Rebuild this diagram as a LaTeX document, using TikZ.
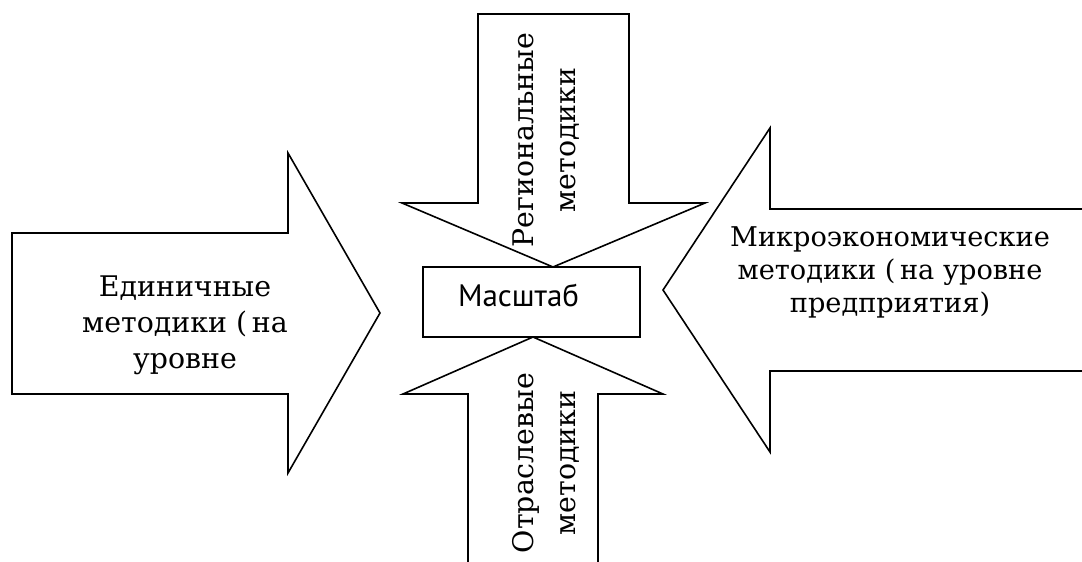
\documentclass[tikz,border=0pt]{standalone}
\usepackage{fontspec}
\setmainfont{DejaVu Serif}
\setsansfont{PT Sans}
\usepackage{tikz}

\begin{document}
\begin{tikzpicture}[
  x=0.5pt,y=-0.5pt,
  bigarrow/.style={draw=black,line width=0.8pt,fill=white,line join=miter},
  lbl/.style={align=center,inner sep=0pt,font=\fontsize{14.2}{18}\selectfont},
  vlbl/.style={lbl,rotate=90,font=\fontsize{14.2}{21}\selectfont},
  box/.style={draw=black,line width=0.8pt,minimum height=35pt,text width=73.5pt,inner xsep=17.5pt,
    align=left,text height=10pt,text depth=6pt,font=\sffamily\fontsize{15.5}{17}\selectfont}
]
\useasboundingbox (0,0) rectangle (1082,562);
% arrows
\draw[bigarrow] (12,233) -- (288,233) -- (288,153) -- (380,313) -- (288,473) -- (288,394) -- (12,394) -- cycle;
\draw[bigarrow] (478,14) -- (629,14) -- (629,203) -- (705,203) -- (553,267) -- (402,203) -- (478,203) -- cycle;
\draw[bigarrow] (468,575) -- (468,394) -- (403,394) -- (533,337) -- (663,394) -- (598,394) -- (598,575);
\draw[bigarrow] (1095,209) -- (770,209) -- (770,128) -- (663,290) -- (770,452) -- (770,371) -- (1095,371);
% labels
\node[box] (scale) at (531.5,302) {Масштаб};
\node[lbl] (unit) at (185,325) {Единичные\\методики (\,на\\уровне};
\node[lbl,font=\fontsize{13.6}{16.5}\selectfont] (micro) at (890,272) {Микроэкономические\\методики (\,на уровне\\предприятия)};
\node[vlbl] (region) at (546,140) {Региональные\\методики};
\node[vlbl] (branch) at (546,463) {Отраслевые\\методики};
\end{tikzpicture}
\end{document}
